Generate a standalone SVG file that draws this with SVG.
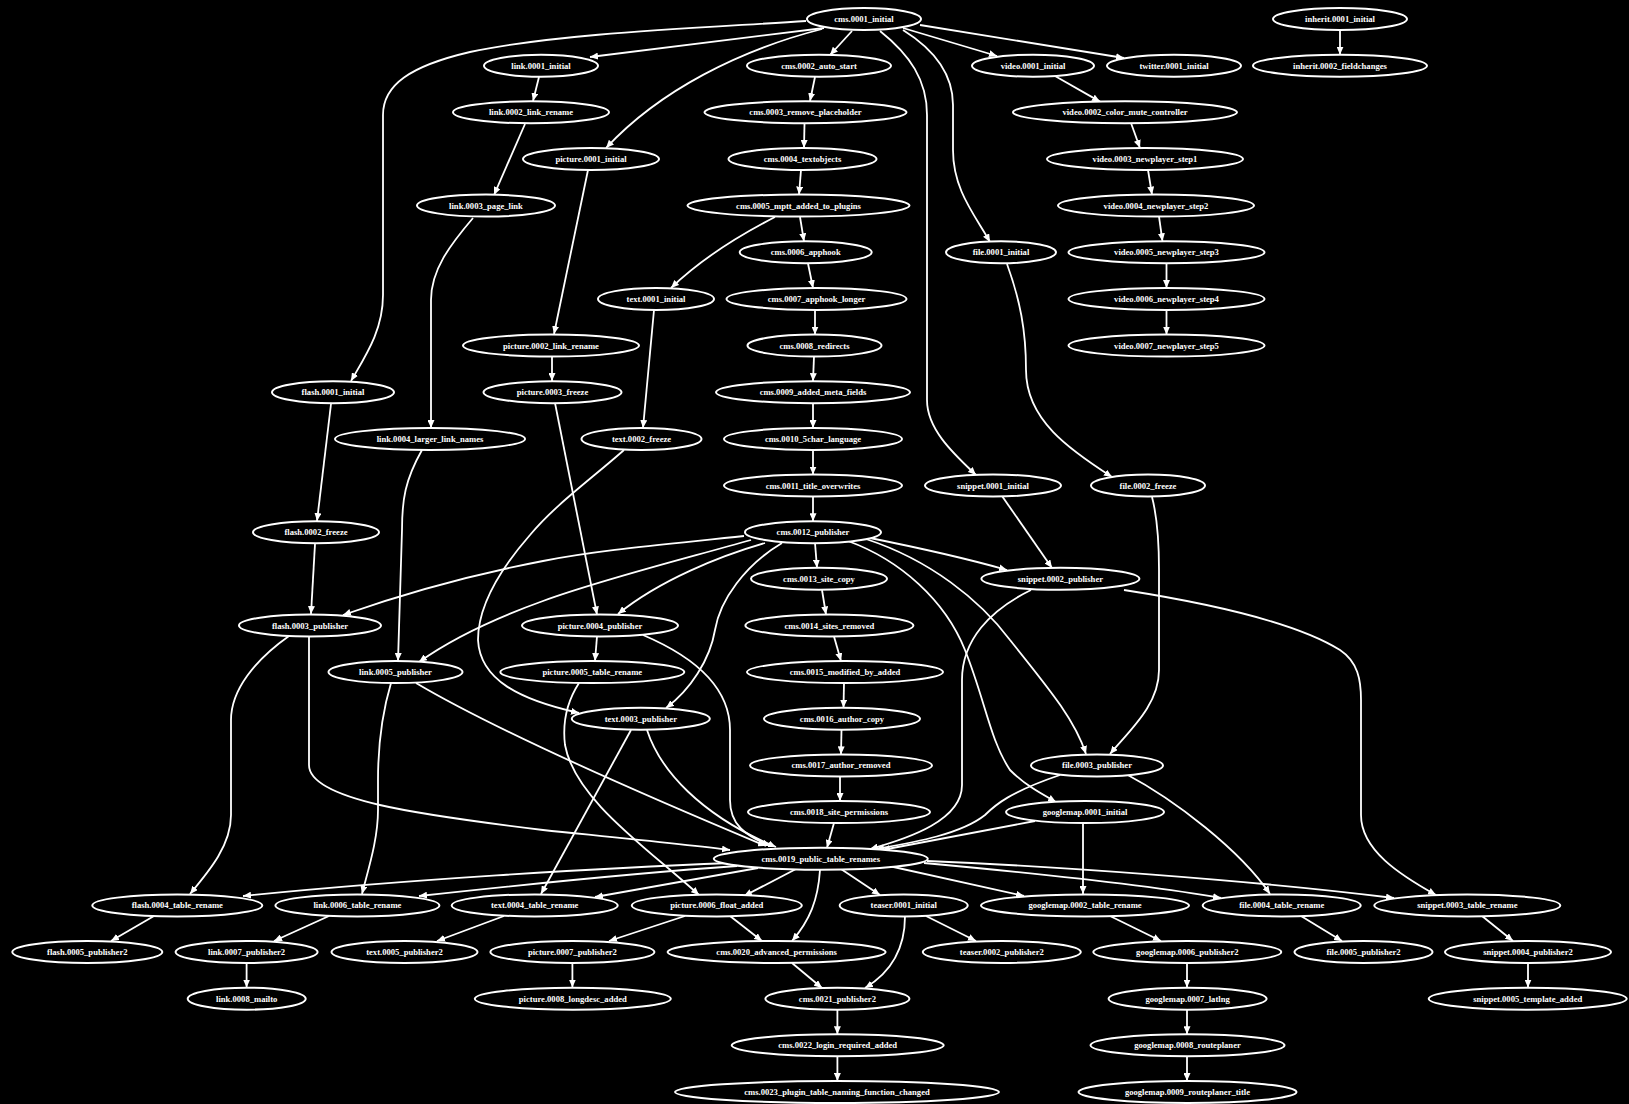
<svg xmlns="http://www.w3.org/2000/svg" width="1629" height="1104" viewBox="0 0 1629 1104">
<defs>
<marker id="arr" markerUnits="userSpaceOnUse" markerWidth="9" markerHeight="7" refX="8" refY="3.5" orient="auto"><path d="M0,0 L8,3.5 L0,7 z" fill="#fff"/></marker>
</defs>
<style>
.e{fill:none;stroke:#fff;stroke-width:1.8;marker-end:url(#arr)}
.n ellipse{fill:#000;stroke:#fff;stroke-width:2}
.n text{fill:#fff;font-family:"Liberation Serif","Times New Roman",serif;font-weight:bold;font-size:8.6px;text-anchor:middle}
</style>
<rect width="1629" height="1104" fill="#000"/>
<g id="edges">
<path class="e" d="M824,28 L590,57"/>
<path class="e" d="M852,31 L830,55"/>
<path class="e" d="M822,29 C740,50 660,90 606,148"/>
<path class="e" d="M806,21 C700,28 560,33 470,52 C410,66 383,85 383,115 L383,295 C383,330 366,355 351,381"/>
<path class="e" d="M903,28 L997,56"/>
<path class="e" d="M920,25 L1124,58"/>
<path class="e" d="M903,30 C935,50 953,75 953,105 L953,150 C953,190 975,215 990,242"/>
<path class="e" d="M880,31 C910,55 927,80 927,115 L927,400 C927,430 955,455 976,475"/>
<path class="e" d="M539,77 L533,101"/>
<path class="e" d="M525,124 L494,195"/>
<path class="e" d="M473,218 C450,245 431,270 431,300 L431,428"/>
<path class="e" d="M422,450 C405,480 402,500 402,530 L398,661"/>
<path class="e" d="M391,683 C383,710 378,740 378,780 L378,810 C378,840 368,870 362,894"/>
<path class="e" d="M416,683 C470,715 560,760 766,846"/>
<path class="e" d="M331,404 L317,521"/>
<path class="e" d="M315,544 L311,614"/>
<path class="e" d="M289,636 C255,660 231,690 231,720 L231,815 C231,845 210,870 190,894"/>
<path class="e" d="M309,637 L309,765 C309,800 420,815 543,830 C620,838 690,845 730,850"/>
<path class="e" d="M154,916 L111,941"/>
<path class="e" d="M730,863 C600,868 400,880 243,896"/>
<path class="e" d="M737,866 C650,872 520,885 419,896"/>
<path class="e" d="M758,868 L595,897"/>
<path class="e" d="M631,730 L541,894"/>
<path class="e" d="M647,730 C660,770 700,815 776,847"/>
<path class="e" d="M504,916 L437,941"/>
<path class="e" d="M329,916 L274,941"/>
<path class="e" d="M246.6,963 L246.6,987.5"/>
<path class="e" d="M588,170 L554,334"/>
<path class="e" d="M552,357 L552,381"/>
<path class="e" d="M555,403 L597,614.5"/>
<path class="e" d="M597,636.5 L595,661"/>
<path class="e" d="M643,635 C690,655 730,685 730,730 L730,800 C730,825 745,835 770,846"/>
<path class="e" d="M579,683 C568,700 562,720 565,745 C575,800 650,850 699,895"/>
<path class="e" d="M685,916 L609,941"/>
<path class="e" d="M730,916 L762,941"/>
<path class="e" d="M572.4,963 L572.4,987.5"/>
<path class="e" d="M796,869 L744,896"/>
<path class="e" d="M820,870 C818,900 810,920 792,941"/>
<path class="e" d="M841,869 L880,895"/>
<path class="e" d="M889,866 L1024,896"/>
<path class="e" d="M924,863 C1000,870 1130,882 1221,898"/>
<path class="e" d="M927,861 C1050,866 1250,880 1394,898"/>
<path class="e" d="M1083,823 L1083,894"/>
<path class="e" d="M1035,821 L882,850"/>
<path class="e" d="M1060,775 C1010,792 995,805 985,815 C960,835 910,843 876,849"/>
<path class="e" d="M1126,774 C1175,800 1240,850 1270,894"/>
<path class="e" d="M1301,916 L1342,941"/>
<path class="e" d="M1482,916 L1513,941"/>
<path class="e" d="M1528,963 L1528,987.5"/>
<path class="e" d="M1110,916 L1161,941"/>
<path class="e" d="M1187,963 L1187,987.5"/>
<path class="e" d="M1187,1009.7 L1187,1034.2"/>
<path class="e" d="M1187,1056.3 L1187,1081"/>
<path class="e" d="M926,916 L976,941"/>
<path class="e" d="M905,916 C905,945 895,970 865,988"/>
<path class="e" d="M792,963 L822,988"/>
<path class="e" d="M837.4,1009.7 L837.4,1034.2"/>
<path class="e" d="M837.4,1056.3 L837.4,1081"/>
<path class="e" d="M815,77 L810,101"/>
<path class="e" d="M804.5,123.5 L804,148"/>
<path class="e" d="M801,170 L799,194.6"/>
<path class="e" d="M800,217 L804,241.3"/>
<path class="e" d="M808,263.5 L813,288"/>
<path class="e" d="M815,310 L815,334.6"/>
<path class="e" d="M814,356.5 L813,381.2"/>
<path class="e" d="M813,403 L813,428"/>
<path class="e" d="M813,450 L813,474.5"/>
<path class="e" d="M813,496.5 L813,521.2"/>
<path class="e" d="M815,543 L817,567.8"/>
<path class="e" d="M822,590 L826,614.5"/>
<path class="e" d="M834,636.5 L841,661.1"/>
<path class="e" d="M844,683 L843.5,707.8"/>
<path class="e" d="M841.5,730 L841,754.4"/>
<path class="e" d="M840,776.4 L840,801.1"/>
<path class="e" d="M834,823 L827,847.8"/>
<path class="e" d="M775,217 C740,235 700,260 671,288"/>
<path class="e" d="M654,310 L643,428"/>
<path class="e" d="M624,450 C590,480 555,505 530,535 C495,575 478,610 478,640 C480,680 520,700 579,713"/>
<path class="e" d="M782,543 C745,565 720,600 715,630 C710,660 690,690 666,708"/>
<path class="e" d="M765,543 C720,556 660,580 618,614"/>
<path class="e" d="M751,540 C680,560 600,580 543,601 C490,620 450,640 419,662"/>
<path class="e" d="M744,536 C660,545 600,550 543,561 C460,577 400,595 343,615"/>
<path class="e" d="M865,537 C920,548 965,558 1007,570"/>
<path class="e" d="M848,541 C900,560 945,600 965,650 C985,700 990,740 1010,770 C1025,785 1040,793 1056,802"/>
<path class="e" d="M866,539 C930,560 980,600 1010,640 C1050,690 1075,720 1086,754"/>
<path class="e" d="M1152,497 C1158,520 1159,545 1159,570 L1159,670 C1159,705 1130,730 1110,754"/>
<path class="e" d="M1002,496 L1052,568"/>
<path class="e" d="M1031,590 C990,610 962,640 962,680 L962,785 C962,820 910,838 870,849"/>
<path class="e" d="M1124,590 C1220,605 1300,625 1340,650 C1358,662 1361,680 1361,700 L1361,815 C1361,850 1400,875 1436,895"/>
<path class="e" d="M1007,264 C1020,300 1026,330 1026,370 C1026,420 1070,450 1112,477"/>
<path class="e" d="M1055,76 L1100,101.6"/>
<path class="e" d="M1131,123 L1140,148"/>
<path class="e" d="M1148,170 L1152,194.6"/>
<path class="e" d="M1159,216.6 L1162.5,241.3"/>
<path class="e" d="M1166.5,263.3 L1166.5,288"/>
<path class="e" d="M1166.5,310 L1166.5,334.6"/>
<path class="e" d="M1340,30 L1340,54.7"/>
</g>
<g id="cms_0001_initial" class="n"><ellipse cx="864" cy="19" rx="57" ry="11"/><text x="864" y="22">cms.0001_initial</text></g>
<g id="inherit_0001_initial" class="n"><ellipse cx="1340" cy="19" rx="67" ry="11"/><text x="1340" y="22">inherit.0001_initial</text></g>
<g id="link_0001_initial" class="n"><ellipse cx="541" cy="65.7" rx="57" ry="11"/><text x="541" y="68.7">link.0001_initial</text></g>
<g id="cms_0002_auto_start" class="n"><ellipse cx="819" cy="65.7" rx="72" ry="11"/><text x="819" y="68.7">cms.0002_auto_start</text></g>
<g id="video_0001_initial" class="n"><ellipse cx="1033" cy="65.7" rx="61" ry="11"/><text x="1033" y="68.7">video.0001_initial</text></g>
<g id="twitter_0001_initial" class="n"><ellipse cx="1174" cy="65.7" rx="67" ry="11"/><text x="1174" y="68.7">twitter.0001_initial</text></g>
<g id="inherit_0002_fieldchanges" class="n"><ellipse cx="1340" cy="65.7" rx="87" ry="11"/><text x="1340" y="68.7">inherit.0002_fieldchanges</text></g>
<g id="link_0002_link_rename" class="n"><ellipse cx="531" cy="112.3" rx="78" ry="11"/><text x="531" y="115.3">link.0002_link_rename</text></g>
<g id="cms_0003_remove_placeholder" class="n"><ellipse cx="805.5" cy="112.3" rx="101" ry="11"/><text x="805.5" y="115.3">cms.0003_remove_placeholder</text></g>
<g id="video_0002_color_mute_controller" class="n"><ellipse cx="1125" cy="112.3" rx="112" ry="11"/><text x="1125" y="115.3">video.0002_color_mute_controller</text></g>
<g id="picture_0001_initial" class="n"><ellipse cx="591" cy="159" rx="68" ry="11"/><text x="591" y="162">picture.0001_initial</text></g>
<g id="cms_0004_textobjects" class="n"><ellipse cx="802.5" cy="159" rx="74" ry="11"/><text x="802.5" y="162">cms.0004_textobjects</text></g>
<g id="video_0003_newplayer_step1" class="n"><ellipse cx="1145" cy="159" rx="98" ry="11"/><text x="1145" y="162">video.0003_newplayer_step1</text></g>
<g id="link_0003_page_link" class="n"><ellipse cx="486" cy="205.6" rx="69" ry="11"/><text x="486" y="208.6">link.0003_page_link</text></g>
<g id="cms_0005_mptt_added_to_plugins" class="n"><ellipse cx="798.5" cy="205.6" rx="111" ry="11"/><text x="798.5" y="208.6">cms.0005_mptt_added_to_plugins</text></g>
<g id="video_0004_newplayer_step2" class="n"><ellipse cx="1156" cy="205.6" rx="98" ry="11"/><text x="1156" y="208.6">video.0004_newplayer_step2</text></g>
<g id="cms_0006_apphook" class="n"><ellipse cx="805.7" cy="252.3" rx="66" ry="11"/><text x="805.7" y="255.3">cms.0006_apphook</text></g>
<g id="file_0001_initial" class="n"><ellipse cx="1001" cy="252.3" rx="55" ry="11"/><text x="1001" y="255.3">file.0001_initial</text></g>
<g id="video_0005_newplayer_step3" class="n"><ellipse cx="1166.5" cy="252.3" rx="98" ry="11"/><text x="1166.5" y="255.3">video.0005_newplayer_step3</text></g>
<g id="text_0001_initial" class="n"><ellipse cx="656" cy="298.9" rx="58" ry="11"/><text x="656" y="301.9">text.0001_initial</text></g>
<g id="cms_0007_apphook_longer" class="n"><ellipse cx="816.5" cy="298.9" rx="90" ry="11"/><text x="816.5" y="301.9">cms.0007_apphook_longer</text></g>
<g id="video_0006_newplayer_step4" class="n"><ellipse cx="1166.5" cy="298.9" rx="98" ry="11"/><text x="1166.5" y="301.9">video.0006_newplayer_step4</text></g>
<g id="picture_0002_link_rename" class="n"><ellipse cx="551" cy="345.6" rx="88" ry="11"/><text x="551" y="348.6">picture.0002_link_rename</text></g>
<g id="cms_0008_redirects" class="n"><ellipse cx="814.5" cy="345.6" rx="67" ry="11"/><text x="814.5" y="348.6">cms.0008_redirects</text></g>
<g id="video_0007_newplayer_step5" class="n"><ellipse cx="1166.5" cy="345.6" rx="98" ry="11"/><text x="1166.5" y="348.6">video.0007_newplayer_step5</text></g>
<g id="flash_0001_initial" class="n"><ellipse cx="333" cy="392.2" rx="61" ry="11"/><text x="333" y="395.2">flash.0001_initial</text></g>
<g id="picture_0003_freeze" class="n"><ellipse cx="552.5" cy="392.2" rx="69" ry="11"/><text x="552.5" y="395.2">picture.0003_freeze</text></g>
<g id="cms_0009_added_meta_fields" class="n"><ellipse cx="813" cy="392.2" rx="97" ry="11"/><text x="813" y="395.2">cms.0009_added_meta_fields</text></g>
<g id="link_0004_larger_link_names" class="n"><ellipse cx="430" cy="438.9" rx="95" ry="11"/><text x="430" y="441.9">link.0004_larger_link_names</text></g>
<g id="text_0002_freeze" class="n"><ellipse cx="641.5" cy="438.9" rx="60" ry="11"/><text x="641.5" y="441.9">text.0002_freeze</text></g>
<g id="cms_0010_5char_language" class="n"><ellipse cx="813" cy="438.9" rx="89" ry="11"/><text x="813" y="441.9">cms.0010_5char_language</text></g>
<g id="cms_0011_title_overwrites" class="n"><ellipse cx="813" cy="485.5" rx="89" ry="11"/><text x="813" y="488.5">cms.0011_title_overwrites</text></g>
<g id="snippet_0001_initial" class="n"><ellipse cx="993" cy="485.5" rx="68" ry="11"/><text x="993" y="488.5">snippet.0001_initial</text></g>
<g id="file_0002_freeze" class="n"><ellipse cx="1148" cy="485.5" rx="57" ry="11"/><text x="1148" y="488.5">file.0002_freeze</text></g>
<g id="flash_0002_freeze" class="n"><ellipse cx="316" cy="532.2" rx="63" ry="11"/><text x="316" y="535.2">flash.0002_freeze</text></g>
<g id="cms_0012_publisher" class="n"><ellipse cx="813" cy="532.2" rx="68" ry="11"/><text x="813" y="535.2">cms.0012_publisher</text></g>
<g id="cms_0013_site_copy" class="n"><ellipse cx="819" cy="578.8" rx="68" ry="11"/><text x="819" y="581.8">cms.0013_site_copy</text></g>
<g id="snippet_0002_publisher" class="n"><ellipse cx="1060.4" cy="578.8" rx="79" ry="11"/><text x="1060.4" y="581.8">snippet.0002_publisher</text></g>
<g id="flash_0003_publisher" class="n"><ellipse cx="310" cy="625.5" rx="71" ry="11"/><text x="310" y="628.5">flash.0003_publisher</text></g>
<g id="picture_0004_publisher" class="n"><ellipse cx="600" cy="625.5" rx="78" ry="11"/><text x="600" y="628.5">picture.0004_publisher</text></g>
<g id="cms_0014_sites_removed" class="n"><ellipse cx="829.4" cy="625.5" rx="84" ry="11"/><text x="829.4" y="628.5">cms.0014_sites_removed</text></g>
<g id="link_0005_publisher" class="n"><ellipse cx="395.5" cy="672.1" rx="67" ry="11"/><text x="395.5" y="675.1">link.0005_publisher</text></g>
<g id="picture_0005_table_rename" class="n"><ellipse cx="592.3" cy="672.1" rx="92" ry="11"/><text x="592.3" y="675.1">picture.0005_table_rename</text></g>
<g id="cms_0015_modified_by_added" class="n"><ellipse cx="845" cy="672.1" rx="98" ry="11"/><text x="845" y="675.1">cms.0015_modified_by_added</text></g>
<g id="text_0003_publisher" class="n"><ellipse cx="640.8" cy="718.8" rx="69" ry="11"/><text x="640.8" y="721.8">text.0003_publisher</text></g>
<g id="cms_0016_author_copy" class="n"><ellipse cx="842" cy="718.8" rx="78" ry="11"/><text x="842" y="721.8">cms.0016_author_copy</text></g>
<g id="cms_0017_author_removed" class="n"><ellipse cx="841" cy="765.4" rx="91" ry="11"/><text x="841" y="768.4">cms.0017_author_removed</text></g>
<g id="file_0003_publisher" class="n"><ellipse cx="1097" cy="765.4" rx="66" ry="11"/><text x="1097" y="768.4">file.0003_publisher</text></g>
<g id="cms_0018_site_permissions" class="n"><ellipse cx="839" cy="812.1" rx="91" ry="11"/><text x="839" y="815.1">cms.0018_site_permissions</text></g>
<g id="googlemap_0001_initial" class="n"><ellipse cx="1085" cy="812.1" rx="79" ry="11"/><text x="1085" y="815.1">googlemap.0001_initial</text></g>
<g id="cms_0019_public_table_renames" class="n"><ellipse cx="820.8" cy="858.7" rx="107" ry="11"/><text x="820.8" y="861.7">cms.0019_public_table_renames</text></g>
<g id="flash_0004_table_rename" class="n"><ellipse cx="177.3" cy="905.4" rx="85" ry="11"/><text x="177.3" y="908.4">flash.0004_table_rename</text></g>
<g id="link_0006_table_rename" class="n"><ellipse cx="357.4" cy="905.4" rx="82" ry="11"/><text x="357.4" y="908.4">link.0006_table_rename</text></g>
<g id="text_0004_table_rename" class="n"><ellipse cx="534.7" cy="905.4" rx="83" ry="11"/><text x="534.7" y="908.4">text.0004_table_rename</text></g>
<g id="picture_0006_float_added" class="n"><ellipse cx="716.8" cy="905.4" rx="85" ry="11"/><text x="716.8" y="908.4">picture.0006_float_added</text></g>
<g id="teaser_0001_initial" class="n"><ellipse cx="903.7" cy="905.4" rx="64" ry="11"/><text x="903.7" y="908.4">teaser.0001_initial</text></g>
<g id="googlemap_0002_table_rename" class="n"><ellipse cx="1085" cy="905.4" rx="104" ry="11"/><text x="1085" y="908.4">googlemap.0002_table_rename</text></g>
<g id="file_0004_table_rename" class="n"><ellipse cx="1281.7" cy="905.4" rx="79" ry="11"/><text x="1281.7" y="908.4">file.0004_table_rename</text></g>
<g id="snippet_0003_table_rename" class="n"><ellipse cx="1467.3" cy="905.4" rx="93" ry="11"/><text x="1467.3" y="908.4">snippet.0003_table_rename</text></g>
<g id="flash_0005_publisher2" class="n"><ellipse cx="87.3" cy="952" rx="75" ry="11"/><text x="87.3" y="955">flash.0005_publisher2</text></g>
<g id="link_0007_publisher2" class="n"><ellipse cx="246.6" cy="952" rx="71" ry="11"/><text x="246.6" y="955">link.0007_publisher2</text></g>
<g id="text_0005_publisher2" class="n"><ellipse cx="404.5" cy="952" rx="73" ry="11"/><text x="404.5" y="955">text.0005_publisher2</text></g>
<g id="picture_0007_publisher2" class="n"><ellipse cx="572.4" cy="952" rx="82" ry="11"/><text x="572.4" y="955">picture.0007_publisher2</text></g>
<g id="cms_0020_advanced_permissions" class="n"><ellipse cx="776.6" cy="952" rx="109" ry="11"/><text x="776.6" y="955">cms.0020_advanced_permissions</text></g>
<g id="teaser_0002_publisher2" class="n"><ellipse cx="1001.8" cy="952" rx="79" ry="11"/><text x="1001.8" y="955">teaser.0002_publisher2</text></g>
<g id="googlemap_0006_publisher2" class="n"><ellipse cx="1187.3" cy="952" rx="94" ry="11"/><text x="1187.3" y="955">googlemap.0006_publisher2</text></g>
<g id="file_0005_publisher2" class="n"><ellipse cx="1363.5" cy="952" rx="69" ry="11"/><text x="1363.5" y="955">file.0005_publisher2</text></g>
<g id="snippet_0004_publisher2" class="n"><ellipse cx="1528" cy="952" rx="83" ry="11"/><text x="1528" y="955">snippet.0004_publisher2</text></g>
<g id="link_0008_mailto" class="n"><ellipse cx="246.7" cy="998.7" rx="59" ry="11"/><text x="246.7" y="1001.7">link.0008_mailto</text></g>
<g id="picture_0008_longdesc_added" class="n"><ellipse cx="572.8" cy="998.7" rx="98" ry="11"/><text x="572.8" y="1001.7">picture.0008_longdesc_added</text></g>
<g id="cms_0021_publisher2" class="n"><ellipse cx="837.4" cy="998.7" rx="72" ry="11"/><text x="837.4" y="1001.7">cms.0021_publisher2</text></g>
<g id="googlemap_0007_latlng" class="n"><ellipse cx="1187.6" cy="998.7" rx="79" ry="11"/><text x="1187.6" y="1001.7">googlemap.0007_latlng</text></g>
<g id="snippet_0005_template_added" class="n"><ellipse cx="1527.7" cy="998.7" rx="99" ry="11"/><text x="1527.7" y="1001.7">snippet.0005_template_added</text></g>
<g id="cms_0022_login_required_added" class="n"><ellipse cx="837.7" cy="1045.3" rx="106" ry="11"/><text x="837.7" y="1048.3">cms.0022_login_required_added</text></g>
<g id="googlemap_0008_routeplaner" class="n"><ellipse cx="1187.5" cy="1045.3" rx="97" ry="11"/><text x="1187.5" y="1048.3">googlemap.0008_routeplaner</text></g>
<g id="cms_0023_plugin_table_naming_function_changed" class="n"><ellipse cx="837" cy="1092" rx="162" ry="11"/><text x="837" y="1095">cms.0023_plugin_table_naming_function_changed</text></g>
<g id="googlemap_0009_routeplaner_title" class="n"><ellipse cx="1187.5" cy="1092" rx="109" ry="11"/><text x="1187.5" y="1095">googlemap.0009_routeplaner_title</text></g>
</svg>
